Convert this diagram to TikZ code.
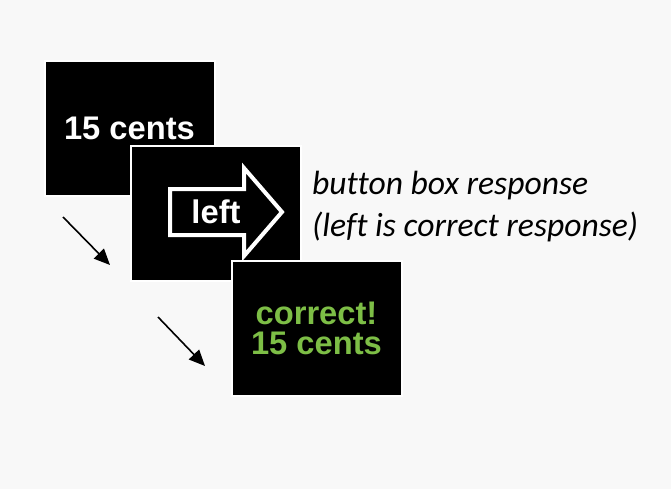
\documentclass[tikz,border=0pt]{standalone}
\usepackage{fontspec}
\setmainfont{Liberation Sans}
\newfontfamily\notefont[Ligatures=NoCommon]{Carlito}
\usepackage{tikz}
\usetikzlibrary{arrows.meta}
\usetikzlibrary{positioning}
\definecolor{paper}{RGB}{248,248,248}
\definecolor{okgreen}{RGB}{125,190,70}

\begin{document}
\begin{tikzpicture}[x=1pt,y=-1pt,
		screen/.style={draw=white,line width=2pt,fill=black,minimum width=170pt,minimum height=135pt,inner sep=0pt},
		big/.style={font=\fontsize{32.7}{30}\selectfont\bfseries,align=center},
		next/.style={-{Triangle[length=16pt,width=14pt]},line width=1.6pt}]
			\fill[paper] (0,0) rectangle (671,489);
			\useasboundingbox (0,0) rectangle (671,489);
			\node[screen,big,text=white] (cue) at (129.5,128.5) {15 cents};
			\node[screen] (resp) at (216,213.5) {};
			\node[screen,big,text=okgreen] (fb) at (316.5,328.5) {correct!\\15 cents};
			% response arrow
			\draw[white,line width=4pt,miter limit=20] (170,189) -- (244,189) -- (244,168) -- (282,212)
				-- (244,256) -- (244,235) -- (170,235) -- cycle;
			\node[big,text=white,inner sep=0pt] (key) at (216,212) {left};
			\node[font=\notefont\itshape\fontsize{33.6}{42}\selectfont,align=left,anchor=base west,inner sep=0pt] (note) at (312,236)
				{button box response\\(left is correct response)};
			\coordinate (s1) at (63,217);
			\coordinate (e1) at (110,265);
			\coordinate (s2) at (158,317);
			\coordinate (e2) at (205,366);
			\draw[next] (s1) -- (e1);
			\draw[next] (s2) -- (e2);
\end{tikzpicture}
\end{document}
